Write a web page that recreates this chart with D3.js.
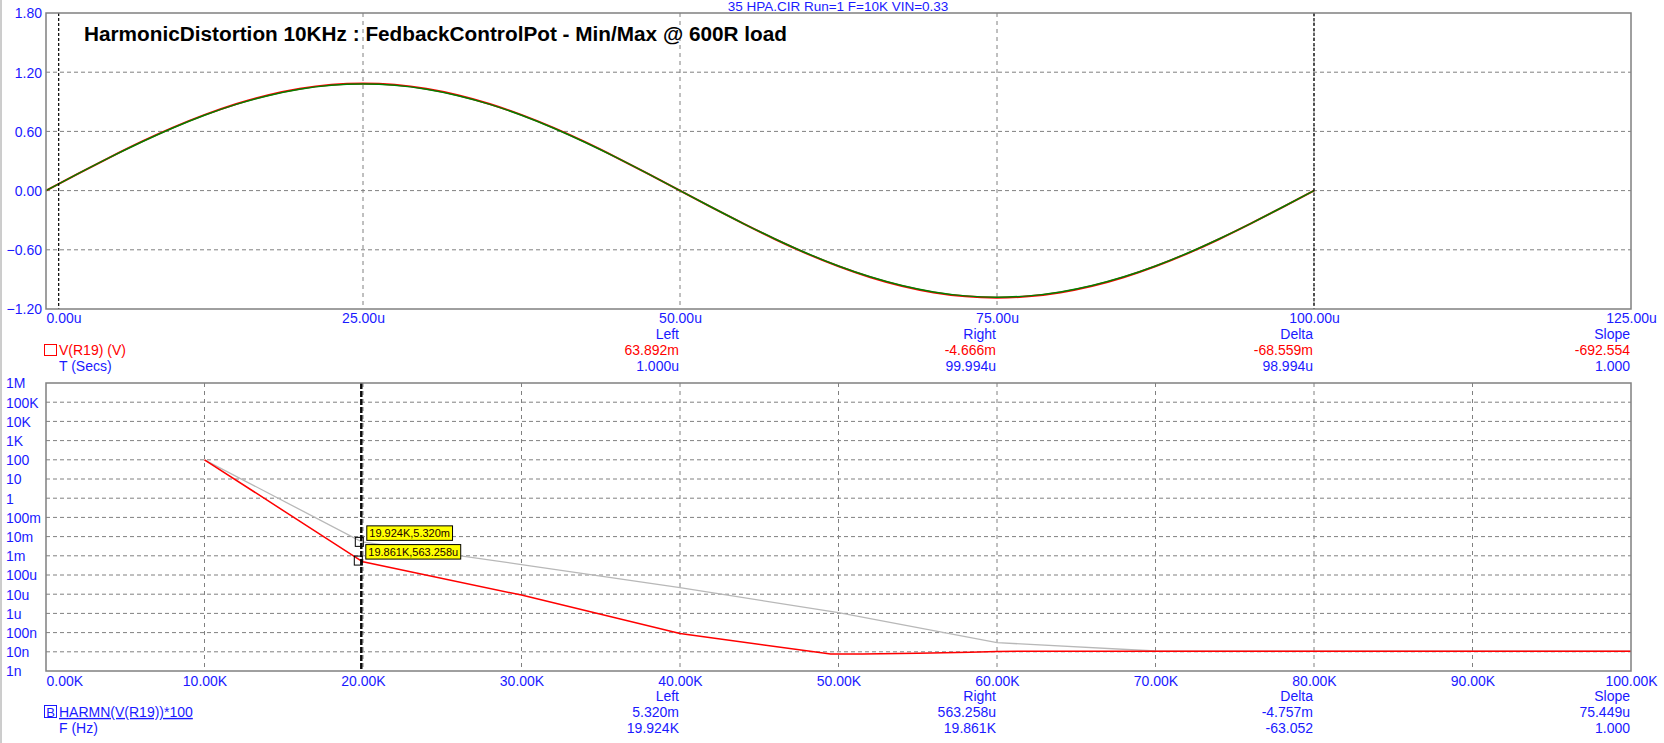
<!DOCTYPE html>
<html>
<head>
<meta charset="utf-8">
<script src="https://cdn.jsdelivr.net/npm/d3@7/dist/d3.min.js"></script>
<style>
  html, body { margin: 0; padding: 0; background: #fff; }
  svg { display: block; }
  text { font-family: "Liberation Sans", Arial, sans-serif; }
</style>
</head>
<body>
<svg id="chart" width="1664" height="743"></svg>
<script>
// ---------------- DATA ----------------
const chartTitle = "HarmonicDistortion 10KHz : FedbackControlPot - Min/Max @ 600R load";
const subTitle = "35 HPA.CIR Run=1 F=10K VIN=0.33";

// Top plot: transient, time in microseconds
const timeUs = [0, 2.5, 5, 7.5, 10, 12.5, 15, 17.5, 20, 22.5, 25, 27.5, 30, 32.5, 35, 37.5, 40, 42.5, 45, 47.5,
  50, 52.5, 55, 57.5, 60, 62.5, 65, 67.5, 70, 72.5, 75, 77.5, 80, 82.5, 85, 87.5, 90, 92.5, 95, 97.5, 100];
const vR19Red = [0, 0.170, 0.335, 0.493, 0.638, 0.767, 0.878, 0.967, 1.032, 1.072, 1.085, 1.072, 1.032, 0.967, 0.878, 0.767, 0.638, 0.493, 0.335, 0.170,
  0, -0.170, -0.335, -0.493, -0.638, -0.767, -0.878, -0.967, -1.032, -1.072, -1.085, -1.072, -1.032, -0.967, -0.878, -0.767, -0.638, -0.493, -0.335, -0.170, 0];
const vR19Green = [0, 0.169, 0.334, 0.490, 0.635, 0.764, 0.874, 0.962, 1.027, 1.067, 1.080, 1.067, 1.027, 0.962, 0.874, 0.764, 0.635, 0.490, 0.334, 0.169,
  0, -0.169, -0.334, -0.490, -0.635, -0.764, -0.874, -0.962, -1.027, -1.067, -1.080, -1.067, -1.027, -0.962, -0.874, -0.764, -0.635, -0.490, -0.334, -0.169, 0];
const topXTicks = [0, 25, 50, 75, 100, 125];
const topYTicks = [-1.2, -0.6, 0, 0.6, 1.2, 1.8];
const topCursorsUs = [1, 100];

// Bottom plot: harmonics (HARMN(V(R19))*100)
const harmFreqRed = [10000, 19861, 20000, 30000, 40000, 49500, 51500, 55000, 58300, 60000, 70000, 80000, 90000, 100000];
const harmRed = [100, 5.63e-4, 4.9e-4, 9e-6, 9e-8, 7.6e-9, 7.7e-9, 8.3e-9, 9.5e-9, 1.05e-8, 1.08e-8, 1.08e-8, 1.08e-8, 1.08e-8];
const harmFreqGray = [10000, 19924, 30000, 40000, 50000, 60000, 70000, 80000, 90000, 100000];
const harmGray = [100, 5.32e-3, 3.5e-4, 2.2e-5, 1.1e-6, 3.0e-8, 1.1e-8, 1.08e-8, 1.08e-8, 1.08e-8];
const botXTicks = [0, 10000, 20000, 30000, 40000, 50000, 60000, 70000, 80000, 90000, 100000];
const botYTicks = [1e-9, 1e-8, 1e-7, 1e-6, 1e-5, 1e-4, 1e-3, 1e-2, 1e-1, 1, 10, 100, 1e3, 1e4, 1e5, 1e6];
const botYLabels = ["1n", "10n", "100n", "1u", "10u", "100u", "1m", "10m", "100m", "1", "10", "100", "1K", "10K", "100K", "1M"];
const botCursors = [ { f: 19924, v: 5.32e-3, label: "19.924K,5.320m" }, { f: 19861, v: 5.63258e-4, label: "19.861K,563.258u" } ];

// Readouts
const readHeaders = ["Left", "Right", "Delta", "Slope"];
const topReadRed = ["63.892m", "-4.666m", "-68.559m", "-692.554"];
const topReadBlue = ["1.000u", "99.994u", "98.994u", "1.000"];
const botReadA = ["5.320m", "563.258u", "-4.757m", "75.449u"];
const botReadB = ["19.924K", "19.861K", "-63.052", "1.000"];

// ---------------- DRAW ----------------
const svg = d3.select("#chart");
const BLUE = "#1a1aff", RED = "#ff0000", GRID = "#808080";
const L = 46, R = 1631;

// window left border
svg.append("line").attr("x1", 1).attr("x2", 1).attr("y1", 0).attr("y2", 743).attr("stroke", "#9a9a9a").attr("stroke-width", 1);

// subtitle
svg.append("text").attr("x", 838).attr("y", 6.5).attr("dy", "0.35em").attr("text-anchor", "middle")
  .attr("fill", BLUE).attr("font-size", 13.5).text(subTitle);

// ---- top plot ----
const T = 13, B = 309;
const xT = d3.scaleLinear().domain([0, 125]).range([L, R]);
const yT = d3.scaleLinear().domain([-1.2, 1.8]).range([B, T]);

const gT = svg.append("g");
// gridlines
gT.selectAll(".hg").data(topYTicks.filter(d => d > -1.2 && d < 1.8)).enter().append("line")
  .attr("x1", L).attr("x2", R).attr("y1", d => yT(d)).attr("y2", d => yT(d))
  .attr("stroke", GRID).attr("stroke-dasharray", "4,3");
gT.selectAll(".vg").data(topXTicks.filter(d => d > 0 && d < 125)).enter().append("line")
  .attr("x1", d => xT(d)).attr("x2", d => xT(d)).attr("y1", T).attr("y2", B)
  .attr("stroke", GRID).attr("stroke-dasharray", "4,4");

// traces
const lineT = (vals) => d3.line().x((d, i) => xT(timeUs[i])).y(d => yT(d)).curve(d3.curveNatural)(vals);
gT.append("path").attr("d", lineT(vR19Red)).attr("fill", "none").attr("stroke", RED).attr("stroke-width", 2);
gT.append("path").attr("d", lineT(vR19Green)).attr("fill", "none").attr("stroke", "#008000").attr("stroke-width", 1.5);

// cursors
gT.selectAll(".cur").data(topCursorsUs).enter().append("line")
  .attr("x1", d => xT(d)).attr("x2", d => xT(d)).attr("y1", T).attr("y2", B)
  .attr("stroke", "#000").attr("stroke-width", 1.2).attr("stroke-dasharray", "3,2");

// frame
gT.append("rect").attr("x", L).attr("y", T).attr("width", R - L).attr("height", B - T)
  .attr("fill", "none").attr("stroke", GRID).attr("stroke-width", 1.5);

// axes labels
const axTX = svg.append("g").attr("transform", `translate(0,${B})`)
  .call(d3.axisBottom(xT).tickValues(topXTicks).tickFormat(d => d.toFixed(2) + "u").tickSize(0).tickPadding(0));
axTX.select(".domain").remove();
axTX.selectAll("text").attr("fill", BLUE).attr("font-size", 14).attr("font-family", "Liberation Sans, Arial, sans-serif")
  .attr("y", 9).attr("dy", "0.35em");
axTX.selectAll(".tick").filter(d => d === 0).select("text").attr("text-anchor", "start");

const axTY = svg.append("g").attr("transform", `translate(42,0)`)
  .call(d3.axisLeft(yT).tickValues(topYTicks).tickFormat(d3.format(".2f")).tickSize(0).tickPadding(0));
axTY.select(".domain").remove();
axTY.selectAll("text").attr("fill", BLUE).attr("font-size", 14).attr("font-family", "Liberation Sans, Arial, sans-serif")
  .attr("dy", "0.35em");

// title
svg.append("text").attr("x", 84).attr("y", 40.5).attr("font-size", 19.5).attr("font-weight", "bold")
  .attr("fill", "#000").attr("textLength", 703).attr("lengthAdjust", "spacingAndGlyphs").text(chartTitle);

// ---- readouts ----
const colEnds = [679, 996, 1313, 1630];
function readout(yHead, rows) {
  svg.selectAll(null).data(readHeaders).enter().append("text")
    .attr("x", (d, i) => colEnds[i]).attr("y", yHead).attr("dy", "0.35em").attr("text-anchor", "end")
    .attr("fill", BLUE).attr("font-size", 14).text(d => d);
  rows.forEach((r, k) => {
    svg.selectAll(null).data(r.vals).enter().append("text")
      .attr("x", (d, i) => colEnds[i]).attr("y", yHead + 16 * (k + 1)).attr("dy", "0.35em").attr("text-anchor", "end")
      .attr("fill", r.color).attr("font-size", 14).text(d => d);
  });
}
readout(334, [{ vals: topReadRed, color: RED }, { vals: topReadBlue, color: BLUE }]);
svg.append("rect").attr("x", 44.5).attr("y", 344.5).attr("width", 12).attr("height", 11).attr("fill", "none").attr("stroke", RED);
svg.append("text").attr("x", 59).attr("y", 350).attr("dy", "0.35em").attr("fill", RED).attr("font-size", 14).text("V(R19) (V)");
svg.append("text").attr("x", 59).attr("y", 366).attr("dy", "0.35em").attr("fill", BLUE).attr("font-size", 14).text("T (Secs)");

// ---- bottom plot ----
const T2 = 383, B2 = 671;
const xB = d3.scaleLinear().domain([0, 100000]).range([L, R]);
const yB = d3.scaleLog().domain([1e-9, 1e6]).range([B2, T2]);
const gB = svg.append("g");

gB.selectAll(".hg").data(botYTicks.slice(1, -1)).enter().append("line")
  .attr("x1", L).attr("x2", R).attr("y1", d => yB(d)).attr("y2", d => yB(d))
  .attr("stroke", GRID).attr("stroke-dasharray", "4,3");
gB.selectAll(".vg").data(botXTicks.slice(1, -1)).enter().append("line")
  .attr("x1", d => xB(d)).attr("x2", d => xB(d)).attr("y1", T2).attr("y2", B2)
  .attr("stroke", GRID).attr("stroke-dasharray", "4,4");

const lineB = (fs, vs) => d3.line().x((d, i) => xB(fs[i])).y(d => yB(d))(vs);
gB.append("path").attr("d", lineB(harmFreqGray, harmGray)).attr("fill", "none").attr("stroke", "#b8b8b8").attr("stroke-width", 1.3);
gB.append("path").attr("d", lineB(harmFreqRed, harmRed)).attr("fill", "none").attr("stroke", RED).attr("stroke-width", 1.5);

// cursors
gB.selectAll(".cur").data(botCursors).enter().append("line")
  .attr("x1", d => xB(d.f)).attr("x2", d => xB(d.f)).attr("y1", T2).attr("y2", B2)
  .attr("stroke", "#000").attr("stroke-width", 1.4).attr("stroke-dasharray", "6,2");

// markers + labels
botCursors.forEach(c => {
  const px = xB(c.f), py = yB(c.v);
  gB.append("rect").attr("x", px - 6.5).attr("y", py - 4.5).attr("width", 8).attr("height", 9)
    .attr("fill", "none").attr("stroke", "#000").attr("stroke-width", 1);
  const t = gB.append("text").attr("x", px + 7.5).attr("y", py - 8.5).attr("dy", "0.35em")
    .attr("font-size", 11).attr("fill", "#1a0000").text(c.label);
  const bb = t.node().getBBox();
  gB.insert("rect", () => t.node()).attr("x", px + 5).attr("y", py - 16).attr("width", bb.width + 5).attr("height", 14.5)
    .attr("fill", "#ffff00").attr("stroke", "#000").attr("stroke-width", 1);
});

gB.append("rect").attr("x", L).attr("y", T2).attr("width", R - L).attr("height", B2 - T2)
  .attr("fill", "none").attr("stroke", GRID).attr("stroke-width", 1.5);

const axBX = svg.append("g").attr("transform", `translate(0,${B2})`)
  .call(d3.axisBottom(xB).tickValues(botXTicks).tickFormat(d => (d / 1000).toFixed(2) + "K").tickSize(0).tickPadding(0));
axBX.select(".domain").remove();
axBX.selectAll("text").attr("fill", BLUE).attr("font-size", 14).attr("font-family", "Liberation Sans, Arial, sans-serif")
  .attr("y", 10).attr("dy", "0.35em");
axBX.selectAll(".tick").filter(d => d === 0).select("text").attr("text-anchor", "start");

const axBY = svg.append("g")
  .call(d3.axisLeft(yB).tickValues(botYTicks).tickFormat((d, i) => botYLabels[i]).tickSize(0).tickPadding(0));
axBY.select(".domain").remove();
axBY.selectAll("text").attr("fill", BLUE).attr("font-size", 14).attr("font-family", "Liberation Sans, Arial, sans-serif")
  .attr("x", 6).attr("text-anchor", "start").attr("dy", "0.35em");

readout(696, [{ vals: botReadA, color: BLUE }, { vals: botReadB, color: BLUE }]);
svg.append("rect").attr("x", 44.5).attr("y", 705.5).attr("width", 12).attr("height", 12).attr("fill", "none").attr("stroke", BLUE);
svg.append("text").attr("x", 50.5).attr("y", 712).attr("dy", "0.35em").attr("text-anchor", "middle").attr("fill", BLUE).attr("font-size", 13).text("B");
svg.append("text").attr("x", 59).attr("y", 712).attr("dy", "0.35em").attr("fill", BLUE).attr("font-size", 14)
  .attr("text-decoration", "underline").text("HARMN(V(R19))*100");
svg.append("text").attr("x", 59).attr("y", 728).attr("dy", "0.35em").attr("fill", BLUE).attr("font-size", 14).text("F (Hz)");
</script>
</body>
</html>
